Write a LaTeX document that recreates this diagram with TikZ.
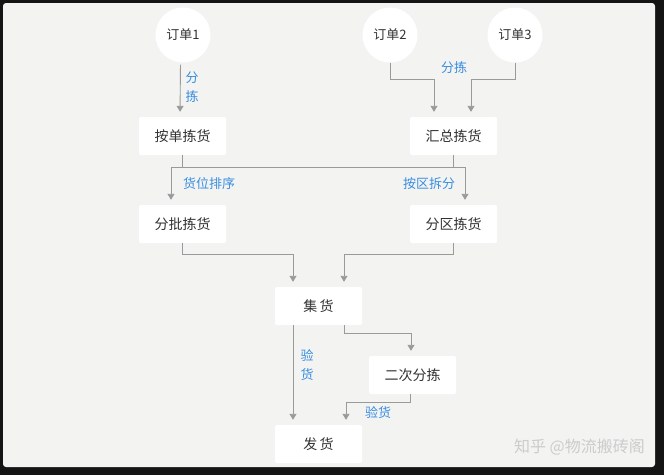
\documentclass[tikz,border=0pt]{standalone}
\usepackage{fontspec}
\newfontfamily\cjk{Noto Sans CJK SC}
\usetikzlibrary{arrows.meta}
\definecolor{panelbg}{HTML}{F3F3F2}
\definecolor{textdark}{HTML}{333333}
\definecolor{tagblue}{HTML}{3A8EE0}
\definecolor{flowgray}{HTML}{9A9A9A}
\begin{document}
\begin{tikzpicture}[x=1pt,y=-1pt,
  order/.style={circle,fill=white,minimum size=55pt,inner sep=0pt,
    font=\cjk\fontsize{13}{15}\selectfont,text=textdark},
  task/.style={rectangle,rounded corners=2pt,fill=white,minimum width=87pt,
    minimum height=38pt,inner sep=0pt,font=\cjk\fontsize{14}{16}\selectfont,text=textdark},
  tag/.style={font=\cjk\fontsize{13}{19}\selectfont,text=tagblue,inner sep=0pt,align=center},
  flow/.style={->,draw=flowgray,line width=0.9pt,shorten >=5pt},
  >={Triangle[length=6pt,width=7pt]}]
  \useasboundingbox (0,0) rectangle (664,475);
  \fill[black!92] (0,0) rectangle (664,475);
  \fill[panelbg,rounded corners=3pt] (3,3) rectangle (655,467);
  % orders
  \node[order] (o1) at (183,35) {订单1};
  \node[order] (o2) at (390,35) {订单2};
  \node[order] (o3) at (515,35) {订单3};
  % picking steps
  \node[task] (anzhan) at (182.5,136) {按单拣货};
  \node[task] (huizong) at (453.5,136) {汇总拣货};
  \node[task] (fenpi) at (182.5,224) {分批拣货};
  \node[task] (fenqu) at (453.5,224) {分区拣货};
  \node[task] (jihuo) at (318.5,306) {集\,货};
  \node[task] (erci) at (412.5,375) {二次分拣};
  \node[task] (fahuo) at (318.5,444) {发\,货};
  % connectors
  \draw[flow,shorten <=2pt] ([xshift=-2.5pt]o1.south) -- ([xshift=-2.5pt]anzhan.north);
  \node[tag] (t1) at (192,87) {分\\拣};
  \draw[flow] (o2.south) -- ++(0,16.5) -| ([xshift=-19.5pt]huizong.north);
  \draw[flow] (o3.south) -- ++(0,16.5) -| ([xshift=17.5pt]huizong.north);
  \node[tag] (t2) at (454,68) {分拣};
  \draw[flow] (anzhan.south) -- ++(0,12) -| ([xshift=11.5pt]fenqu.north);
  \draw[flow] (huizong.south) -- ++(0,12) -| ([xshift=-11.5pt]fenpi.north);
  \node[tag] (t3) at (209,184) {货位排序};
  \node[tag] (t4) at (429,184) {按区拆分};
  \draw[flow] (fenpi.south) -- ++(0,11) -| ([xshift=-25.5pt]jihuo.north);
  \draw[flow] (fenqu.south) -- ++(0,11) -| ([xshift=25.5pt]jihuo.north);
  \draw[flow] ([xshift=25.5pt]jihuo.south) -- ++(0,8) -| ([xshift=-1.5pt]erci.north);
  \draw[flow] ([xshift=-25.5pt]jihuo.south) -- ([xshift=-25.5pt]fahuo.north);
  \node[tag] (t5) at (307,365) {验\\货};
  \draw[flow] ([xshift=-2.5pt]erci.south) -- ++(0,8) -| ([xshift=27.5pt]fahuo.north);
  \node[tag] (t6) at (378,413) {验货};
  % watermark
  \node[font=\cjk\fontsize{16}{18}\selectfont,text=black!20,anchor=east,inner sep=0pt]
    (mark) at (645,447) {知乎 @物流搬砖阁};
\end{tikzpicture}
\end{document}
